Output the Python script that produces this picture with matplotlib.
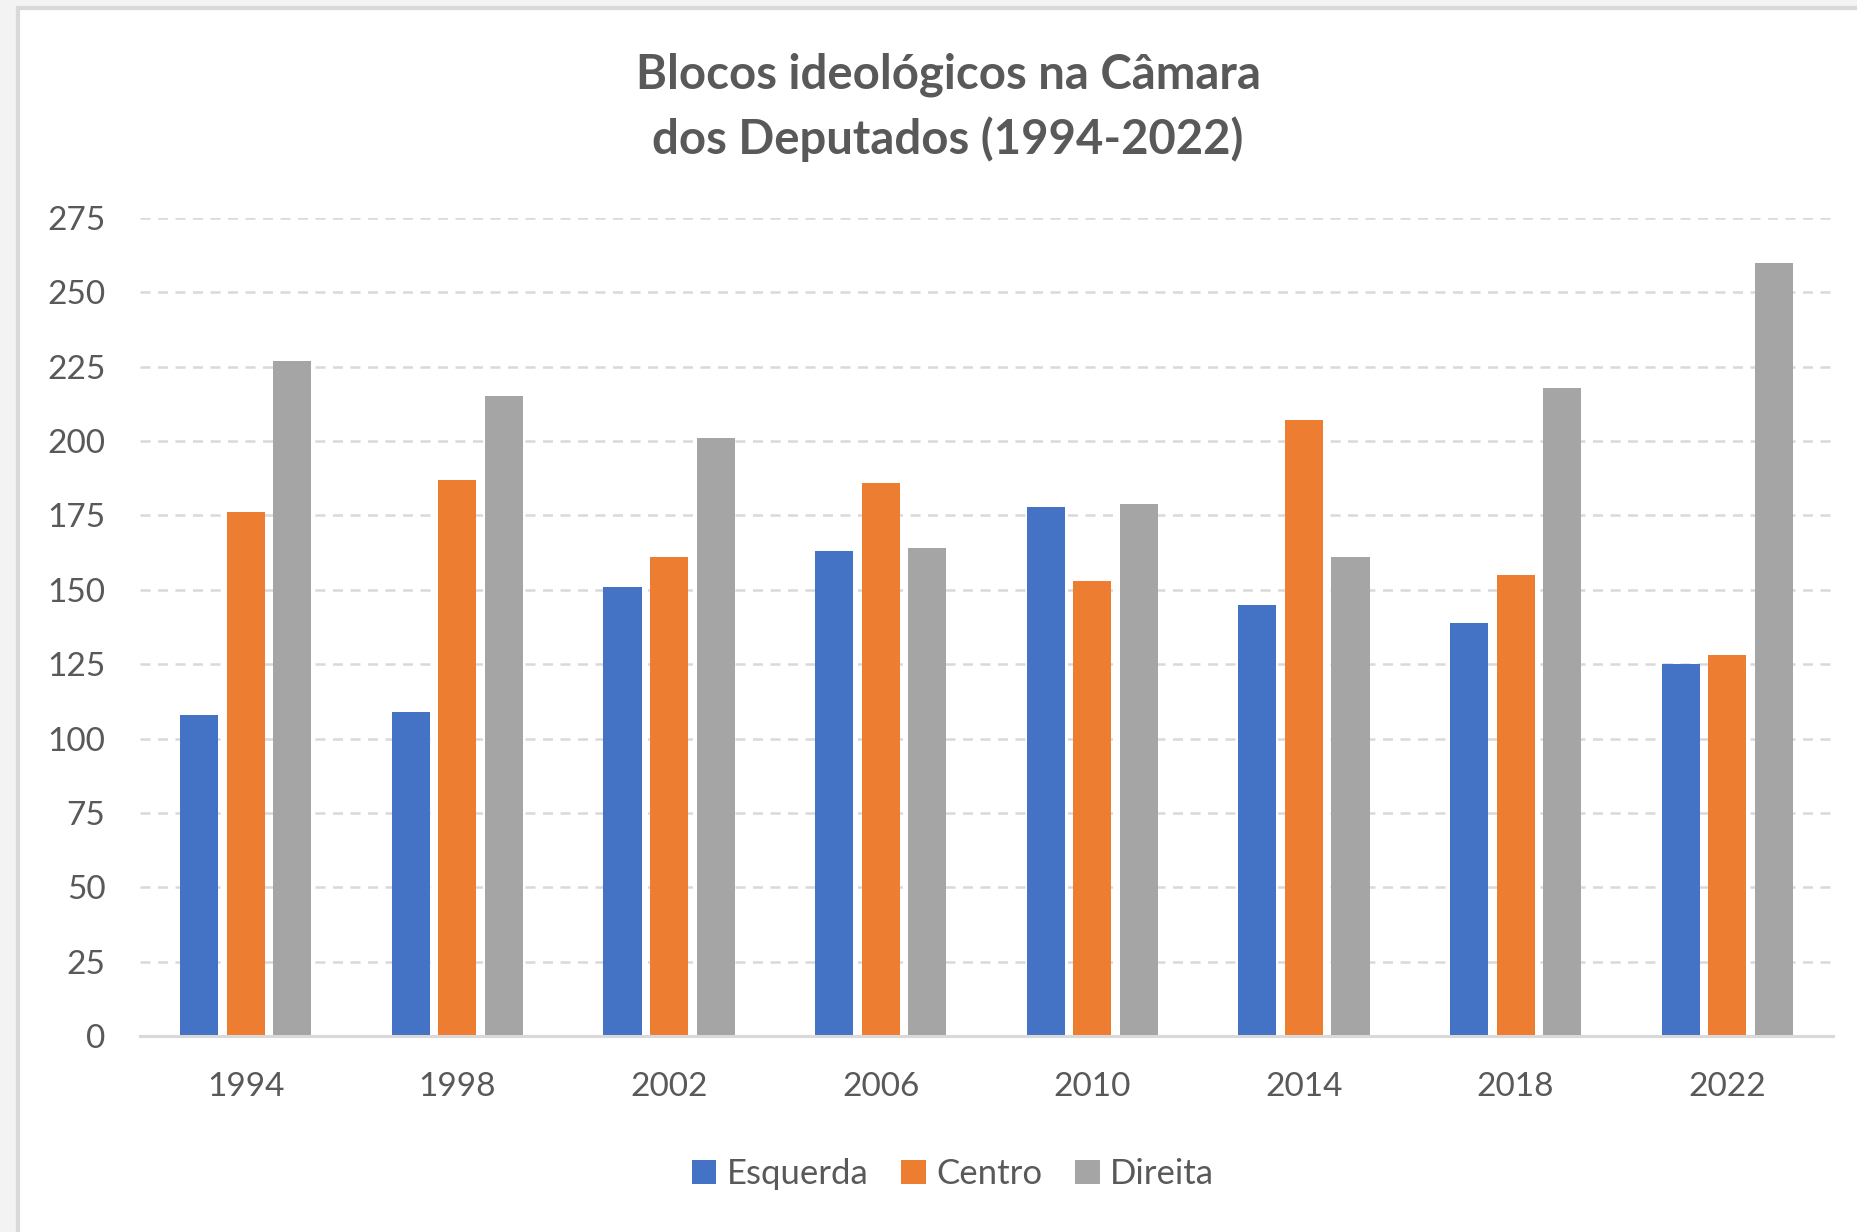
import matplotlib.pyplot as plt
from matplotlib.patches import Rectangle
import numpy as np

plt.rcParams['font.family'] = ['Lato', 'DejaVu Sans']

anos = ['1994', '1998', '2002', '2006', '2010', '2014', '2018', '2022']
esquerda = [108, 109, 151, 163, 178, 145, 139, 125]
centro = [176, 187, 161, 186, 153, 207, 155, 128]
direita = [227, 215, 201, 164, 179, 161, 218, 260]
series = ['Esquerda', 'Centro', 'Direita']
cores = ['#4472C4', '#ED7D31', '#A5A5A5']
yticks = list(range(0, 276, 25))

W, H = 1857, 1232
fig = plt.figure(figsize=(W / 100, H / 100), dpi=100)
fig.patch.set_facecolor('#f3f3f3')

# white chart area with the thin grey border (excel look)
fig.patches.append(Rectangle((17.5 / W, -0.01), 1.0, 1 - 7.5 / H + 0.01,
                             transform=fig.transFigure, facecolor='white',
                             edgecolor='#d9d9d9', linewidth=3, zorder=-10))

ax = fig.add_axes([140 / W, 1 - 1036 / H, 1693 / W, 818 / H])
ax.set_facecolor('none')

x = np.arange(len(anos))
larg = 0.18
passo = 0.22
for i, (nome, vals) in enumerate(zip(series, [esquerda, centro, direita])):
    ax.bar(x + (i - 1) * passo, vals, width=larg, color=cores[i], label=nome, zorder=3)

ax.set_xlim(-0.5, len(anos) - 0.5)
ax.set_ylim(0, 275)
ax.set_yticks(yticks)
ax.set_xticks(x)
ax.set_xticklabels(anos)

for s in ['top', 'right', 'left']:
    ax.spines[s].set_visible(False)
ax.spines['bottom'].set_color('#d9d9d9')
ax.spines['bottom'].set_linewidth(2.2)
ax.spines['bottom'].set_zorder(4)

ax.grid(axis='y', color='#d9d9d9', linestyle=(0, (4, 3)), linewidth=1.8, zorder=0)
ax.set_axisbelow(True)
ax.tick_params(axis='both', length=0, labelsize=24, labelcolor='#595959')
ax.tick_params(axis='y', pad=25)
ax.tick_params(axis='x', pad=26)

fig.text(948 / W, 1 - 107 / H, 'Blocos ideológicos na Câmara\ndos Deputados (1994-2022)',
         ha='center', va='center', fontsize=34, fontweight='bold', color='#595959',
         linespacing=1.5)

leg = fig.legend(loc='center', bbox_to_anchor=(953 / W, 1 - 1174 / H), ncol=3,
                 frameon=False, fontsize=25, handlelength=0.7, handleheight=0.7,
                 handletextpad=0.3, columnspacing=0.95)
for t in leg.get_texts():
    t.set_color('#595959')

fig.savefig('out.png', dpi=100, facecolor=fig.get_facecolor())
